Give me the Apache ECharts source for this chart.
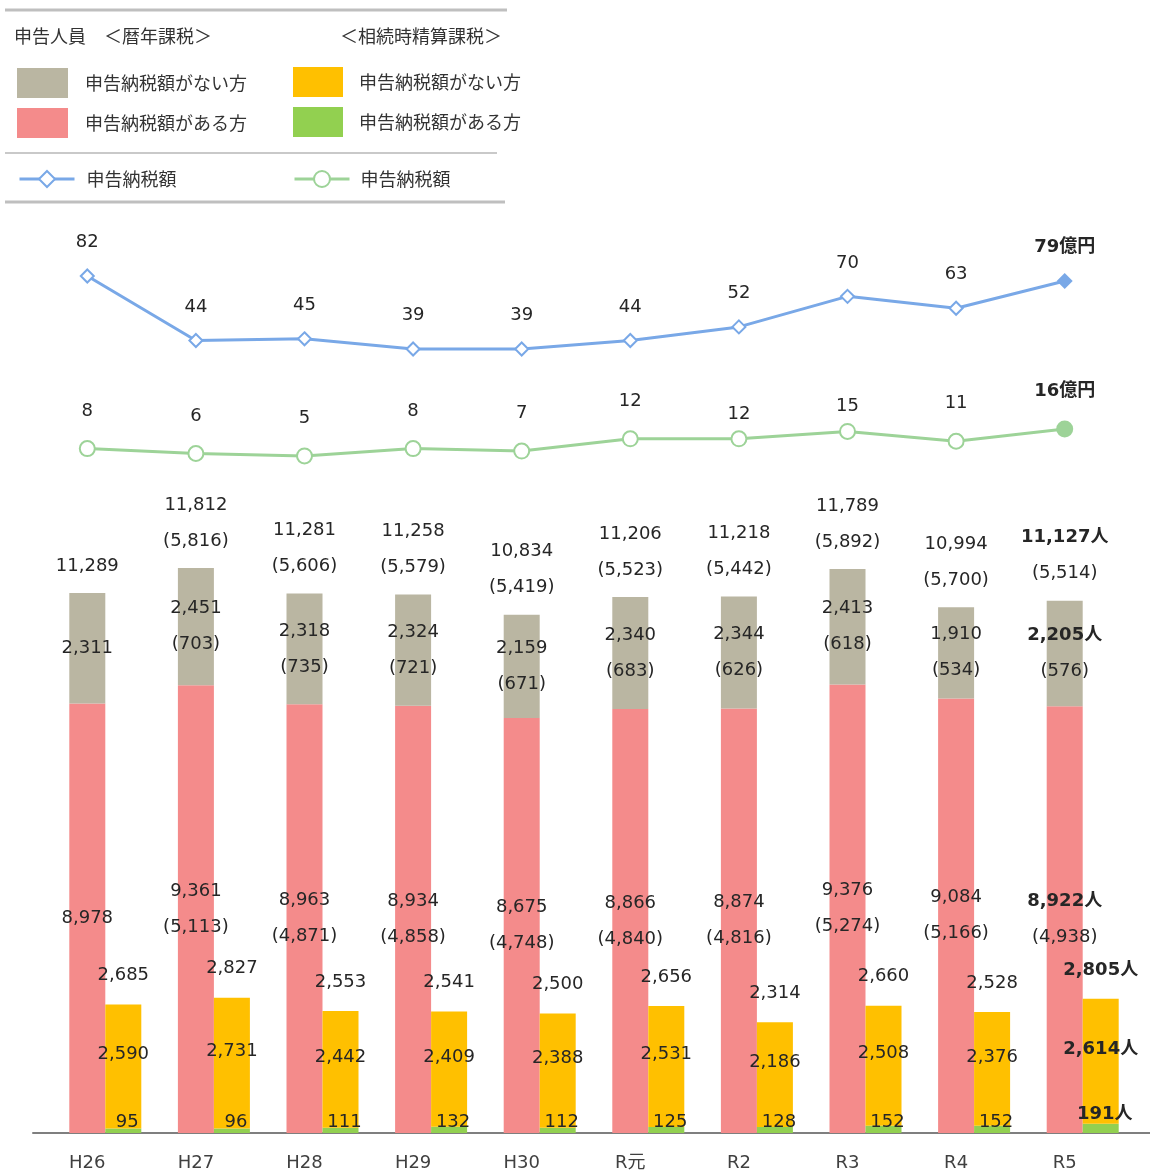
<!DOCTYPE html>
<html>
<head>
<meta charset="utf-8">
<script src="https://cdn.jsdelivr.net/npm/echarts@6/dist/echarts.min.js"></script>
<style>
html, body { margin: 0; padding: 0; background: #fff; }
#chart { width: 1150px; height: 1173px; }
</style>
</head>
<body>
<div id="chart"></div>
<script>
var years = ['H26', 'H27', 'H28', 'H29', 'H30', 'R元', 'R2', 'R3', 'R4', 'R5'];

// 暦年課税 (people)
var rekinenTotal = [11289, 11812, 11281, 11258, 10834, 11206, 11218, 11789, 10994, 11127];
var rekinenTotalSub = [null, 5816, 5606, 5579, 5419, 5523, 5442, 5892, 5700, 5514];
var rekinenNoTax = [2311, 2451, 2318, 2324, 2159, 2340, 2344, 2413, 1910, 2205];
var rekinenNoTaxSub = [null, 703, 735, 721, 671, 683, 626, 618, 534, 576];
var rekinenTax = [8978, 9361, 8963, 8934, 8675, 8866, 8874, 9376, 9084, 8922];
var rekinenTaxSub = [null, 5113, 4871, 4858, 4748, 4840, 4816, 5274, 5166, 4938];

// 相続時精算課税 (people)
var seisanTotal = [2685, 2827, 2553, 2541, 2500, 2656, 2314, 2660, 2528, 2805];
var seisanNoTax = [2590, 2731, 2442, 2409, 2388, 2531, 2186, 2508, 2376, 2614];
var seisanTax = [95, 96, 111, 132, 112, 125, 128, 152, 152, 191];

// 申告納税額 (億円)
var rekinenAmount = [82, 44, 45, 39, 39, 44, 52, 70, 63, 79];
var seisanAmount = [8, 6, 5, 8, 7, 12, 12, 15, 11, 16];

var FONT = '"DejaVu Sans", "Noto Sans CJK JP", sans-serif';
var JP = '"Noto Sans CJK JP", sans-serif';
var TXT = '#262626';
var BLUE = '#79a8e7';
var LGREEN = '#9dd398';
var last = years.length - 1;

var legendNames = {
    r_nashi: '申告納税額がない方',
    r_ari: '申告納税額がある方',
    s_nashi: '申告納税額がない方',
    s_ari: '申告納税額がある方',
    r_amt: '申告納税額',
    s_amt: '申告納税額'
};

// a few labels in the green line sit lower than the rest
var seisanLabelDrop = {6: 13, 7: 12};

function fmt(v) {
    return v.toLocaleString('en-US');
}

function peopleLabel(arr, sub) {
    return function (p) {
        var i = p.dataIndex;
        var head = i === last ? '{b|' + fmt(arr[i]) + '人}' : fmt(arr[i]);
        if (!sub || sub[i] == null) return head;
        return head + '\n(' + fmt(sub[i]) + ')';
    };
}

var boldRich = {
    b: {fontFamily: FONT, fontWeight: 'bold', fontSize: 18, lineHeight: 36, color: TXT}
};

function labelBase(extra) {
    var o = {
        show: true,
        fontFamily: FONT,
        fontSize: 18,
        lineHeight: 36,
        color: TXT,
        rich: boldRich
    };
    for (var k in extra) o[k] = extra[k];
    return o;
}

function legendText(padLeft) {
    return {fontFamily: JP, fontSize: 18, color: '#333', padding: [0, 0, 0, padLeft]};
}

var zeros = years.map(function () { return 0; });

function lineData(arr, symbol, size) {
    return arr.map(function (v, i) {
        var item = {value: v};
        if (i === last) {
            item.symbol = symbol;
            item.symbolSize = size;
        }
        return item;
    });
}

var chart = echarts.init(document.getElementById('chart'));

var option = {
    animation: false,
    backgroundColor: '#fff',
    grid: {left: 33, right: 31, top: 220, bottom: 40},
    xAxis: {
        type: 'category',
        data: years,
        axisTick: {show: false},
        axisLine: {lineStyle: {color: '#7f7f7f', width: 2}},
        axisLabel: {fontFamily: FONT, fontSize: 18, color: '#404040', margin: 21}
    },
    yAxis: [
        {type: 'value', show: false, min: 0, max: 19088},
        {type: 'value', show: false, min: -422.7, max: 114.96},
        {type: 'value', show: false, min: -271.3, max: 101.3}
    ],
    legend: [
        {
            data: ['r_nashi', 'r_ari'], orient: 'vertical', left: 17, top: 68, padding: 0,
            icon: 'rect', itemWidth: 51, itemHeight: 30, itemGap: 10,
            formatter: function (n) { return legendNames[n]; },
            textStyle: legendText(12)
        },
        {
            data: ['s_nashi', 's_ari'], orient: 'vertical', left: 293, top: 67, padding: 0,
            icon: 'rect', itemWidth: 50, itemHeight: 30, itemGap: 10,
            formatter: function (n) { return legendNames[n]; },
            textStyle: legendText(11)
        },
        {
            data: ['r_amt'], left: 18, top: 170, padding: 0, itemWidth: 55, itemHeight: 20,
            lineStyle: {width: 3},
            formatter: function (n) { return legendNames[n]; },
            textStyle: legendText(7)
        },
        {
            data: ['s_amt'], left: 293, top: 170, padding: 0, itemWidth: 55, itemHeight: 20,
            lineStyle: {width: 3},
            formatter: function (n) { return legendNames[n]; },
            textStyle: legendText(6)
        }
    ],
    graphic: [
        {type: 'line', shape: {x1: 5, y1: 10, x2: 507, y2: 10}, style: {stroke: '#bfbfbf', lineWidth: 3}},
        {type: 'line', shape: {x1: 5, y1: 153, x2: 497, y2: 153}, style: {stroke: '#c9c9c9', lineWidth: 2}},
        {type: 'line', shape: {x1: 5, y1: 202, x2: 505, y2: 202}, style: {stroke: '#bfbfbf', lineWidth: 3}},
        {type: 'text', left: 14, top: 27, style: {text: '申告人員　＜暦年課税＞', font: '18px ' + JP, fill: '#333'}},
        {type: 'text', left: 340, top: 27, style: {text: '＜相続時精算課税＞', font: '18px ' + JP, fill: '#333'}},
        {type: 'line', shape: {x1: 1119, y1: 1133, x2: 1150, y2: 1133}, style: {stroke: '#7f7f7f', lineWidth: 2}}
    ],
    series: [
        // empty slot on the left so the 暦年 bar sits on the category centre
        {
            type: 'bar', name: 'pad', stack: 'pad', data: zeros, barWidth: 36, barGap: '0%',
            silent: true, itemStyle: {color: 'rgba(0,0,0,0)'}
        },
        {
            type: 'bar', name: 'r_ari', stack: 'rekinen', data: rekinenTax, barWidth: 36, barGap: '0%',
            itemStyle: {color: '#f48b8b'},
            label: labelBase({position: 'inside', formatter: peopleLabel(rekinenTax, rekinenTaxSub)})
        },
        {
            type: 'bar', name: 'r_nashi', stack: 'rekinen', data: rekinenNoTax, barWidth: 36, barGap: '0%',
            itemStyle: {color: '#bab6a2'},
            label: labelBase({position: 'inside', formatter: peopleLabel(rekinenNoTax, rekinenNoTaxSub)})
        },
        {
            type: 'bar', name: 'r_total', stack: 'rekinen', data: zeros, barWidth: 36, barGap: '0%',
            silent: true, itemStyle: {color: 'rgba(0,0,0,0)'},
            label: labelBase({position: 'top', distance: 9, formatter: peopleLabel(rekinenTotal, rekinenTotalSub)})
        },
        {
            type: 'bar', name: 's_ari', stack: 'seisan', data: seisanTax, barWidth: 36, barGap: '0%',
            itemStyle: {color: '#92d050'},
            label: labelBase({position: 'insideBottom', distance: 1, lineHeight: 20, offset: [4, 0], formatter: peopleLabel(seisanTax)})
        },
        {
            type: 'bar', name: 's_nashi', stack: 'seisan', data: seisanNoTax, barWidth: 36, barGap: '0%',
            itemStyle: {color: '#ffc000'},
            label: labelBase({position: 'inside', offset: [0, -12], formatter: peopleLabel(seisanNoTax)})
        },
        {
            type: 'bar', name: 's_total', stack: 'seisan', data: zeros, barWidth: 36, barGap: '0%',
            silent: true, itemStyle: {color: 'rgba(0,0,0,0)'},
            label: labelBase({position: 'top', distance: 11, formatter: peopleLabel(seisanTotal)})
        },
        {
            type: 'line', name: 'r_amt', yAxisIndex: 1,
            data: lineData(rekinenAmount, 'diamond', 16),
            symbol: 'emptyDiamond', symbolSize: 13,
            lineStyle: {color: BLUE, width: 3},
            itemStyle: {color: BLUE, borderWidth: 3},
            label: {
                show: true, position: 'top', distance: 16,
                fontFamily: FONT, fontSize: 18, lineHeight: 20, color: TXT,
                rich: {b: {fontFamily: FONT, fontWeight: 'bold', fontSize: 18, color: TXT}},
                formatter: function (p) {
                    return p.dataIndex === last ? '{b|' + p.value + '億円}' : String(p.value);
                }
            },
            z: 5
        },
        {
            type: 'line', name: 's_amt', yAxisIndex: 2,
            data: lineData(seisanAmount, 'circle', 17).map(function (d, i) {
                if (seisanLabelDrop[i]) d.label = {offset: [0, seisanLabelDrop[i]]};
                return d;
            }),
            symbol: 'emptyCircle', symbolSize: 15,
            lineStyle: {color: LGREEN, width: 3},
            itemStyle: {color: LGREEN, borderWidth: 3},
            label: {
                show: true, position: 'top', distance: 19,
                fontFamily: FONT, fontSize: 18, lineHeight: 20, color: TXT,
                rich: {b: {fontFamily: FONT, fontWeight: 'bold', fontSize: 18, color: TXT}},
                formatter: function (p) {
                    return p.dataIndex === last ? '{b|' + p.value + '億円}' : String(p.value);
                }
            },
            z: 5
        }
    ]
};

chart.setOption(option);
</script>
</body>
</html>
